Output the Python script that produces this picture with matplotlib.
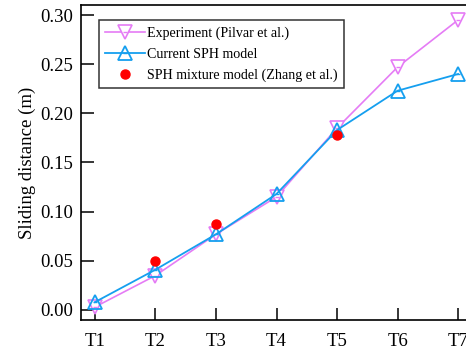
import numpy as np
import matplotlib.pyplot as plt

plt.rcParams['font.family'] = ['Liberation Serif', 'DejaVu Serif']

cases = ["T1", "T2", "T3", "T4", "T5", "T6", "T7"]
experiment = [0.003, 0.035, 0.077, 0.115, 0.185, 0.247, 0.295]
current_sph = [0.008, 0.041, 0.077, 0.118, 0.183, 0.223, 0.240]
mix_cases = ["T2", "T3", "T5"]
mix_sph = [0.050, 0.087, 0.178]

x = np.arange(len(cases))
xm = [cases.index(c) for c in mix_cases]

fig = plt.figure(figsize=(4.66, 3.54), dpi=100)
ax = fig.add_axes([81/466, 34/354, 391/466, 315/354])

violet = '#E57CF5'
blue = '#159FEF'

# lines with open triangles, plus the little dash inside each marker
l1, = ax.plot(x, experiment, color=violet, lw=1.2, marker='v', ms=10,
              mfc='white', mec=violet, mew=1.2)
d1, = ax.plot(x, experiment, ls='none', marker='_', ms=3, mew=1, color=violet)
l2, = ax.plot(x, current_sph, color=blue, lw=1.3, marker='^', ms=10,
              mfc='none', mec=blue, mew=1.3)
d2, = ax.plot(x, current_sph, ls='none', marker='_', ms=3, mew=1, color=blue)
l3, = ax.plot(xm, mix_sph, ls='none', marker='o', ms=6.5, color='red')

ax.set_xlim(-0.23, 6.23)
ax.set_ylim(-0.0102, 0.3102)
ax.set_xticks(x)
ax.set_xticklabels(cases)
yt = np.arange(0, 0.31, 0.05)
ax.set_yticks(yt)
ax.set_yticklabels([f"{v:.2f}" for v in yt])
ax.tick_params(direction='in', length=9, width=1.1, labelsize=13.5, pad=6)
ax.tick_params(axis='x', pad=9)
for s in ax.spines.values():
    s.set_linewidth(1.2)
ax.set_ylabel("Sliding distance (m)", fontsize=13.5, labelpad=3)

leg = ax.legend([(l1, d1), (l2, d2), l3],
                ['Experiment (Pilvar et al.)', 'Current SPH model',
                 'SPH mixture model (Zhang et al.)'],
                loc='upper left', bbox_to_anchor=(0.046, 0.952), fontsize=10.1,
                frameon=True, fancybox=False, edgecolor='black',
                handlelength=2.8, handletextpad=0.15, borderpad=0.45,
                labelspacing=0.55, borderaxespad=0)
leg.get_frame().set_linewidth(1.1)

fig.savefig('out.png', dpi=100)
